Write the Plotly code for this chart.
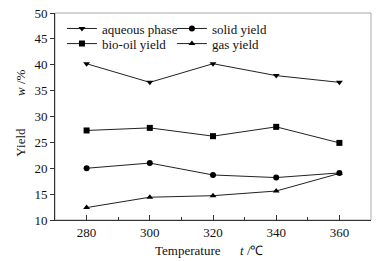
import plotly.graph_objects as go

temps = [280, 300, 320, 340, 360]
aqueous = [40.2, 36.6, 40.2, 37.9, 36.6]
bio_oil = [27.3, 27.8, 26.2, 28.0, 24.9]
solid = [20.0, 21.0, 18.7, 18.2, 19.1]
gas = [12.4, 14.4, 14.7, 15.6, 19.0]

# name, values, marker, legend id, legend position (paper coords)
series = [
    ("aqueous phase", aqueous, "triangle-down", "legend", (0.022, 0.925)),
    ("bio-oil yield", bio_oil, "square", "legend2", (0.022, 0.852)),
    ("solid yield", solid, "circle", "legend3", (0.37, 0.925)),
    ("gas yield", gas, "triangle-up", "legend4", (0.37, 0.852)),
]

font = "Liberation Serif"
fig = go.Figure()
legends = {}
for name, vals, sym, leg, (lx, ly) in series:
    fig.add_trace(go.Scatter(
        x=temps, y=vals, name=name, mode="lines+markers",
        line=dict(color="#222", width=1),
        marker=dict(symbol=sym, size=6, color="#000"),
        legend=leg,
    ))
    legends[leg] = dict(x=lx, y=ly, xanchor="left", yanchor="middle",
                        bgcolor="rgba(0,0,0,0)", font=dict(size=13, family=font),
                        itemwidth=30, borderwidth=0)

fig.update_layout(
    width=386, height=261,
    margin=dict(l=55, r=15, t=13, b=41, autoexpand=False),
    paper_bgcolor="white", plot_bgcolor="white",
    font=dict(family=font, size=13, color="#111"),
    showlegend=True,
    **legends,
    xaxis=dict(range=[270, 370], tickvals=temps, ticks="inside", ticklen=5,
               tickcolor="#333", showline=True, linecolor="#333", linewidth=1,
               showgrid=False, zeroline=False, automargin=False,
               minor=dict(tickvals=[290, 310, 330, 350], ticks="inside", ticklen=3, tickcolor="#333")),
    yaxis=dict(range=[10, 50], dtick=5, ticks="outside", ticklen=4,
               tickcolor="#333", showline=True, linecolor="#333", linewidth=1,
               showgrid=False, zeroline=False, automargin=False),
    annotations=[
        dict(text="Temperature\u00a0\u00a0\u00a0\u00a0\u00a0\u00a0<i>t</i> /℃", xref="paper", yref="paper",
             x=0.49, y=-0.145, xanchor="center", yanchor="middle", showarrow=False,
             font=dict(size=13, family=font)),
        dict(text="Yield\u00a0\u00a0\u00a0\u00a0\u00a0\u00a0\u00a0\u00a0\u00a0\u00a0<i>w</i> /%", xref="paper", yref="paper",
             x=-0.11, y=0.515, xanchor="center", yanchor="middle", showarrow=False, textangle=-90,
             font=dict(size=13, family=font)),
    ],
    shapes=[dict(type="rect", xref="paper", yref="paper", x0=0, y0=0, x1=1, y1=1,
                 line=dict(color="#aaa", width=1), layer="below")],
)

fig.write_html("out.html", config={"displayModeBar": False},
               post_script="document.body.style.margin='0';")
